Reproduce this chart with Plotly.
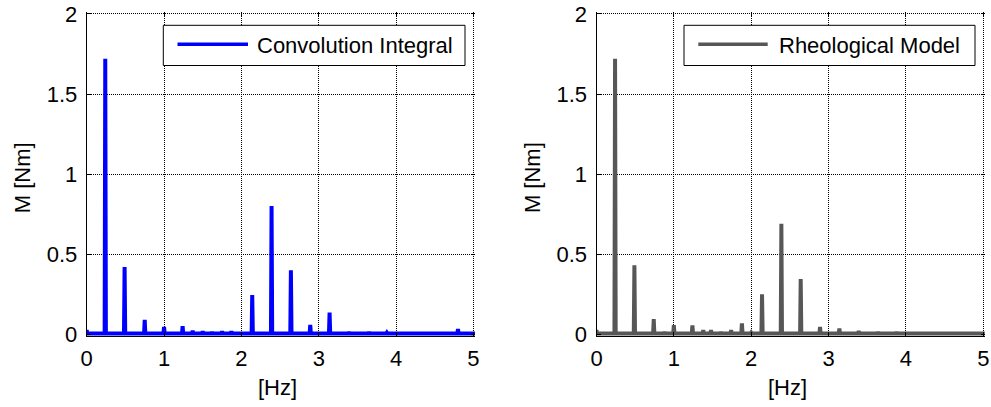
import plotly.graph_objects as go

# ---- data ----
conv_freq = [0.00, 0.24, 0.49, 0.75, 0.86, 1.00, 1.13, 1.24, 1.37, 1.50, 1.62, 1.75, 1.87,
             2.14, 2.39, 2.64, 2.89, 3.14, 3.39, 3.65, 3.88, 4.80]
conv_amp = [0.025, 1.72, 0.42, 0.09, 0.012, 0.045, 0.012, 0.05, 0.022, 0.018, 0.014, 0.018, 0.018,
            0.245, 0.80, 0.40, 0.058, 0.135, 0.015, 0.015, 0.010, 0.032]

rheo_freq = [0.00, 0.24, 0.49, 0.74, 0.88, 1.00, 1.24, 1.38, 1.48, 1.61, 1.74, 1.88, 2.00,
             2.14, 2.39, 2.64, 2.89, 3.14, 3.39, 3.64, 3.88]
rheo_amp = [0.025, 1.72, 0.43, 0.095, 0.015, 0.056, 0.055, 0.025, 0.025, 0.015, 0.025, 0.067, 0.010,
            0.25, 0.69, 0.345, 0.045, 0.035, 0.020, 0.015, 0.015]

x_ticks = [0, 1, 2, 3, 4, 5]
y_ticks = [0, 0.5, 1, 1.5, 2]
series_names = ["Convolution Integral", "Rheological Model"]
x_title = "[Hz]"
y_title = "M [Nm]"

BLUE = "#0000FF"
GRAY = "#575757"
FONT = "Liberation Sans, Arial, sans-serif"
FS = 22
W, H = 991, 407

BASE = 0.004
HALF = 0.008


def spikes(freqs, amps):
    xs, ys = [], []
    for f, a in zip(freqs, amps):
        xs += [f - HALF, f, f + HALF]
        ys += [BASE, a, BASE]
    xs.append(5.05)
    ys.append(BASE)
    return xs, ys


fig = go.Figure()

cx, cy = spikes(conv_freq, conv_amp)
rx, ry = spikes(rheo_freq, rheo_amp)
fig.add_trace(go.Scatter(x=cx, y=cy, mode="lines", line=dict(color=BLUE, width=4),
                         xaxis="x", yaxis="y", showlegend=False, hoverinfo="skip"))
fig.add_trace(go.Scatter(x=rx, y=ry, mode="lines", line=dict(color=GRAY, width=4),
                         xaxis="x2", yaxis="y2", showlegend=False, hoverinfo="skip"))
# invisible traces for mirrored-tick overlay axes
fig.add_trace(go.Scatter(x=[None], y=[None], xaxis="x3", yaxis="y3", showlegend=False))
fig.add_trace(go.Scatter(x=[None], y=[None], xaxis="x4", yaxis="y4", showlegend=False))

PXH = 77.35
X0L, X0R = 86.7, 596.5
XR = [0, 5.02]
YR = [-0.012, 2.01]
PXV = 160.2
ytop = 14 - 0.01 * PXV
ybot = 334.2 + 0.012 * PXV
ydom = [1 - ybot / H, 1 - ytop / H]
xdomL = [X0L / W, (X0L + XR[1] * PXH) / W]
xdomR = [X0R / W, (X0R + XR[1] * PXH) / W]

grid = dict(showgrid=True, gridcolor="#000000", gridwidth=1, griddash="1px,1px", zeroline=False)
tickfont = dict(family=FONT, size=FS, color="black")

def xax(dom, anchor):
    return dict(domain=dom, range=XR, anchor=anchor, tickvals=x_ticks, ticktext=[str(v) for v in x_ticks],
                ticks="inside", ticklen=4, tickcolor="black", showline=True, linecolor="black", linewidth=1,
                tickfont=tickfont, ticklabelstandoff=2, **grid)

def yax(dom, anchor):
    return dict(domain=dom, range=YR, anchor=anchor, tickvals=y_ticks, ticktext=["0", "0.5", "1", "1.5", "2"],
                ticks="inside", ticklen=4, tickcolor="black", showline=True, linecolor="black", linewidth=1,
                tickfont=tickfont, ticklabelstandoff=4, **grid)

def xmirror(over, anchor):
    return dict(overlaying=over, side="top", anchor=anchor, range=XR, tickvals=x_ticks, ticks="inside",
                ticklen=4, tickcolor="black", showticklabels=False, showgrid=False, showline=False, zeroline=False)

def ymirror(over, anchor):
    return dict(overlaying=over, side="right", anchor=anchor, range=YR, tickvals=y_ticks, ticks="inside",
                ticklen=4, tickcolor="black", showticklabels=False, showgrid=False, showline=False, zeroline=False)

fig.update_layout(
    width=W, height=H,
    margin=dict(l=0, r=0, t=0, b=0, autoexpand=False),
    paper_bgcolor="white", plot_bgcolor="white",
    xaxis=xax(xdomL, "y"), yaxis=yax(ydom, "x"),
    xaxis2=xax(xdomR, "y2"), yaxis2=yax(ydom, "x2"),
    xaxis3=xmirror("x", "y"), yaxis3=ymirror("y", "x"),
    xaxis4=xmirror("x2", "y2"), yaxis4=ymirror("y2", "x2"),
    showlegend=False,
)

# custom legends (MATLAB style)
legends = [
    (163.3, 465.0, 177.5, 248.0, 255.0, BLUE, series_names[0]),
    (684.0, 975.0, 698.3, 767.7, 776.7, GRAY, series_names[1]),
]
for bx0, bx1, lx0, lx1, tx, col, name in legends:
    fig.add_shape(type="rect", xref="paper", yref="paper", x0=bx0 / W, x1=bx1 / W,
                  y0=1 - 65.5 / H, y1=1 - 25.3 / H, line=dict(color="black", width=1),
                  fillcolor="white", layer="above")
    fig.add_shape(type="line", xref="paper", yref="paper", x0=lx0 / W, x1=lx1 / W,
                  y0=1 - 44.3 / H, y1=1 - 44.3 / H, line=dict(color=col, width=3.5), layer="above")
    fig.add_annotation(x=tx / W, y=1 - 45.5 / H, xref="paper", yref="paper", xanchor="left",
                       yanchor="middle", text=name, showarrow=False,
                       font=dict(family=FONT, size=FS, color="black"))

# axis titles
for xc in (277.5, 787.5):
    fig.add_annotation(x=xc / W, y=1 - 387 / H, xref="paper", yref="paper", xanchor="center",
                       yanchor="middle", text=x_title, showarrow=False,
                       font=dict(family=FONT, size=FS, color="black"))
for xc in (22.8, 532.6):
    fig.add_annotation(x=xc / W, y=1 - 177.5 / H, xref="paper", yref="paper", xanchor="center",
                       yanchor="middle", text=y_title, textangle=-90, showarrow=False,
                       font=dict(family=FONT, size=FS, color="black"))

fig.write_html("out.html")
